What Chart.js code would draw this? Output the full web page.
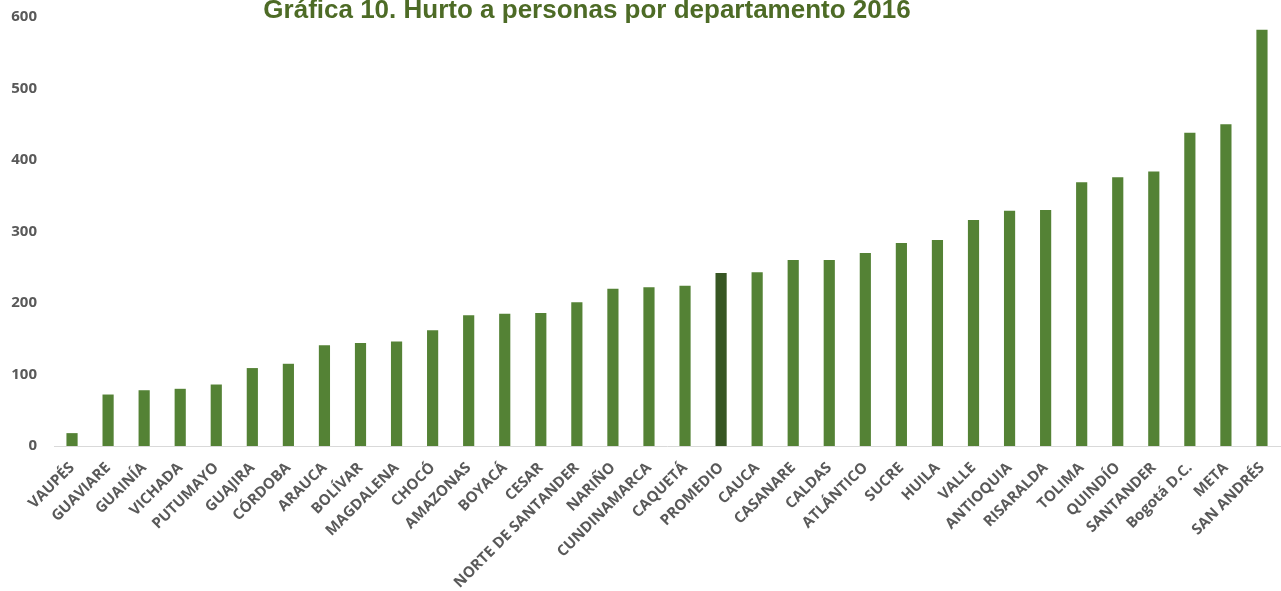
<!DOCTYPE html>
<html>
<head>
<meta charset="utf-8">
<script src="https://cdn.jsdelivr.net/npm/chart.js@4"></script>
<style>
  html, body { margin: 0; padding: 0; background: #fff; }
  #wrap { width: 1281px; height: 591px; position: relative; }
</style>
</head>
<body>
<div id="wrap"><canvas id="chart"></canvas></div>
<script>
const TITLE = 'Gráfica 10. Hurto a personas por departamento 2016';

const departamentos = [
  'VAUPÉS', 'GUAVIARE', 'GUAINÍA', 'VICHADA', 'PUTUMAYO', 'GUAJIRA', 'CÓRDOBA',
  'ARAUCA', 'BOLÍVAR', 'MAGDALENA', 'CHOCÓ', 'AMAZONAS', 'BOYACÁ', 'CESAR',
  'NORTE DE SANTANDER', 'NARIÑO', 'CUNDINAMARCA', 'CAQUETÁ', 'PROMEDIO', 'CAUCA',
  'CASANARE', 'CALDAS', 'ATLÁNTICO', 'SUCRE', 'HUILA', 'VALLE', 'ANTIOQUIA',
  'RISARALDA', 'TOLIMA', 'QUINDÍO', 'SANTANDER', 'Bogotá D.C.', 'META', 'SAN ANDRÉS'
];

const hurtos = [
  18, 72, 78, 80, 86, 109, 115,
  141, 144, 146, 162, 183, 185, 186,
  201, 220, 222, 224, 242, 243,
  260, 260, 270, 284, 288, 316, 329,
  330, 369, 376, 384, 438, 450, 582
];

const yTicks = [0, 100, 200, 300, 400, 500, 600];

const GREEN = '#548235';
const GREEN_DARK = '#375623';
const GREY = '#595959';

const barColors = departamentos.map(d => d === 'PROMEDIO' ? GREEN_DARK : GREEN);

// ── Title drawn over the plot ──
const titlePlugin = {
  id: 'titleText',
  afterDraw(chart) {
    const ctx = chart.ctx;
    ctx.save();
    ctx.font = 'bold 26px "Liberation Sans", Arial, sans-serif';
    ctx.fillStyle = '#4D6B26';
    ctx.textAlign = 'center';
    ctx.textBaseline = 'alphabetic';
    ctx.fillText(TITLE, 587, 18);
    ctx.restore();
  }
};

new Chart(document.getElementById('chart'), {
  type: 'bar',
  data: {
    labels: departamentos,
    datasets: [{
      data: hurtos,
      backgroundColor: barColors,
      borderWidth: 0,
      categoryPercentage: 1,
      barPercentage: 0.31,
    }],
  },
  options: {
    responsive: true,
    maintainAspectRatio: false,
    animation: false,
    layout: { padding: { top: 17, right: 1, bottom: 0, left: 0 } },
    plugins: {
      legend: { display: false },
      tooltip: { enabled: false },
    },
    scales: {
      x: {
        grid: { display: false, drawTicks: false },
        border: { display: true, color: '#D9D9D9', width: 1 },
        ticks: {
          color: GREY,
          font: { family: '"Open Sans", sans-serif', size: 15, weight: 'bold' },
          minRotation: 45,
          maxRotation: 45,
          autoSkip: false,
          padding: 13,
        },
        afterFit: s => { s.height = 145; s.paddingLeft = 0; s.paddingRight = 0; },
      },
      y: {
        min: 0,
        max: 600,
        afterBuildTicks: s => { s.ticks = yTicks.map(v => ({ value: v })); },
        grid: { display: false, drawTicks: false },
        border: { display: false },
        ticks: {
          color: GREY,
          font: { family: '"Open Sans", sans-serif', size: 15, weight: 'bold' },
          padding: 17,
        },
        afterFit: s => { s.width = 54; s.paddingTop = 0; s.paddingBottom = 0; },
      },
    },
  },
  plugins: [titlePlugin],
});
</script>
</body>
</html>
